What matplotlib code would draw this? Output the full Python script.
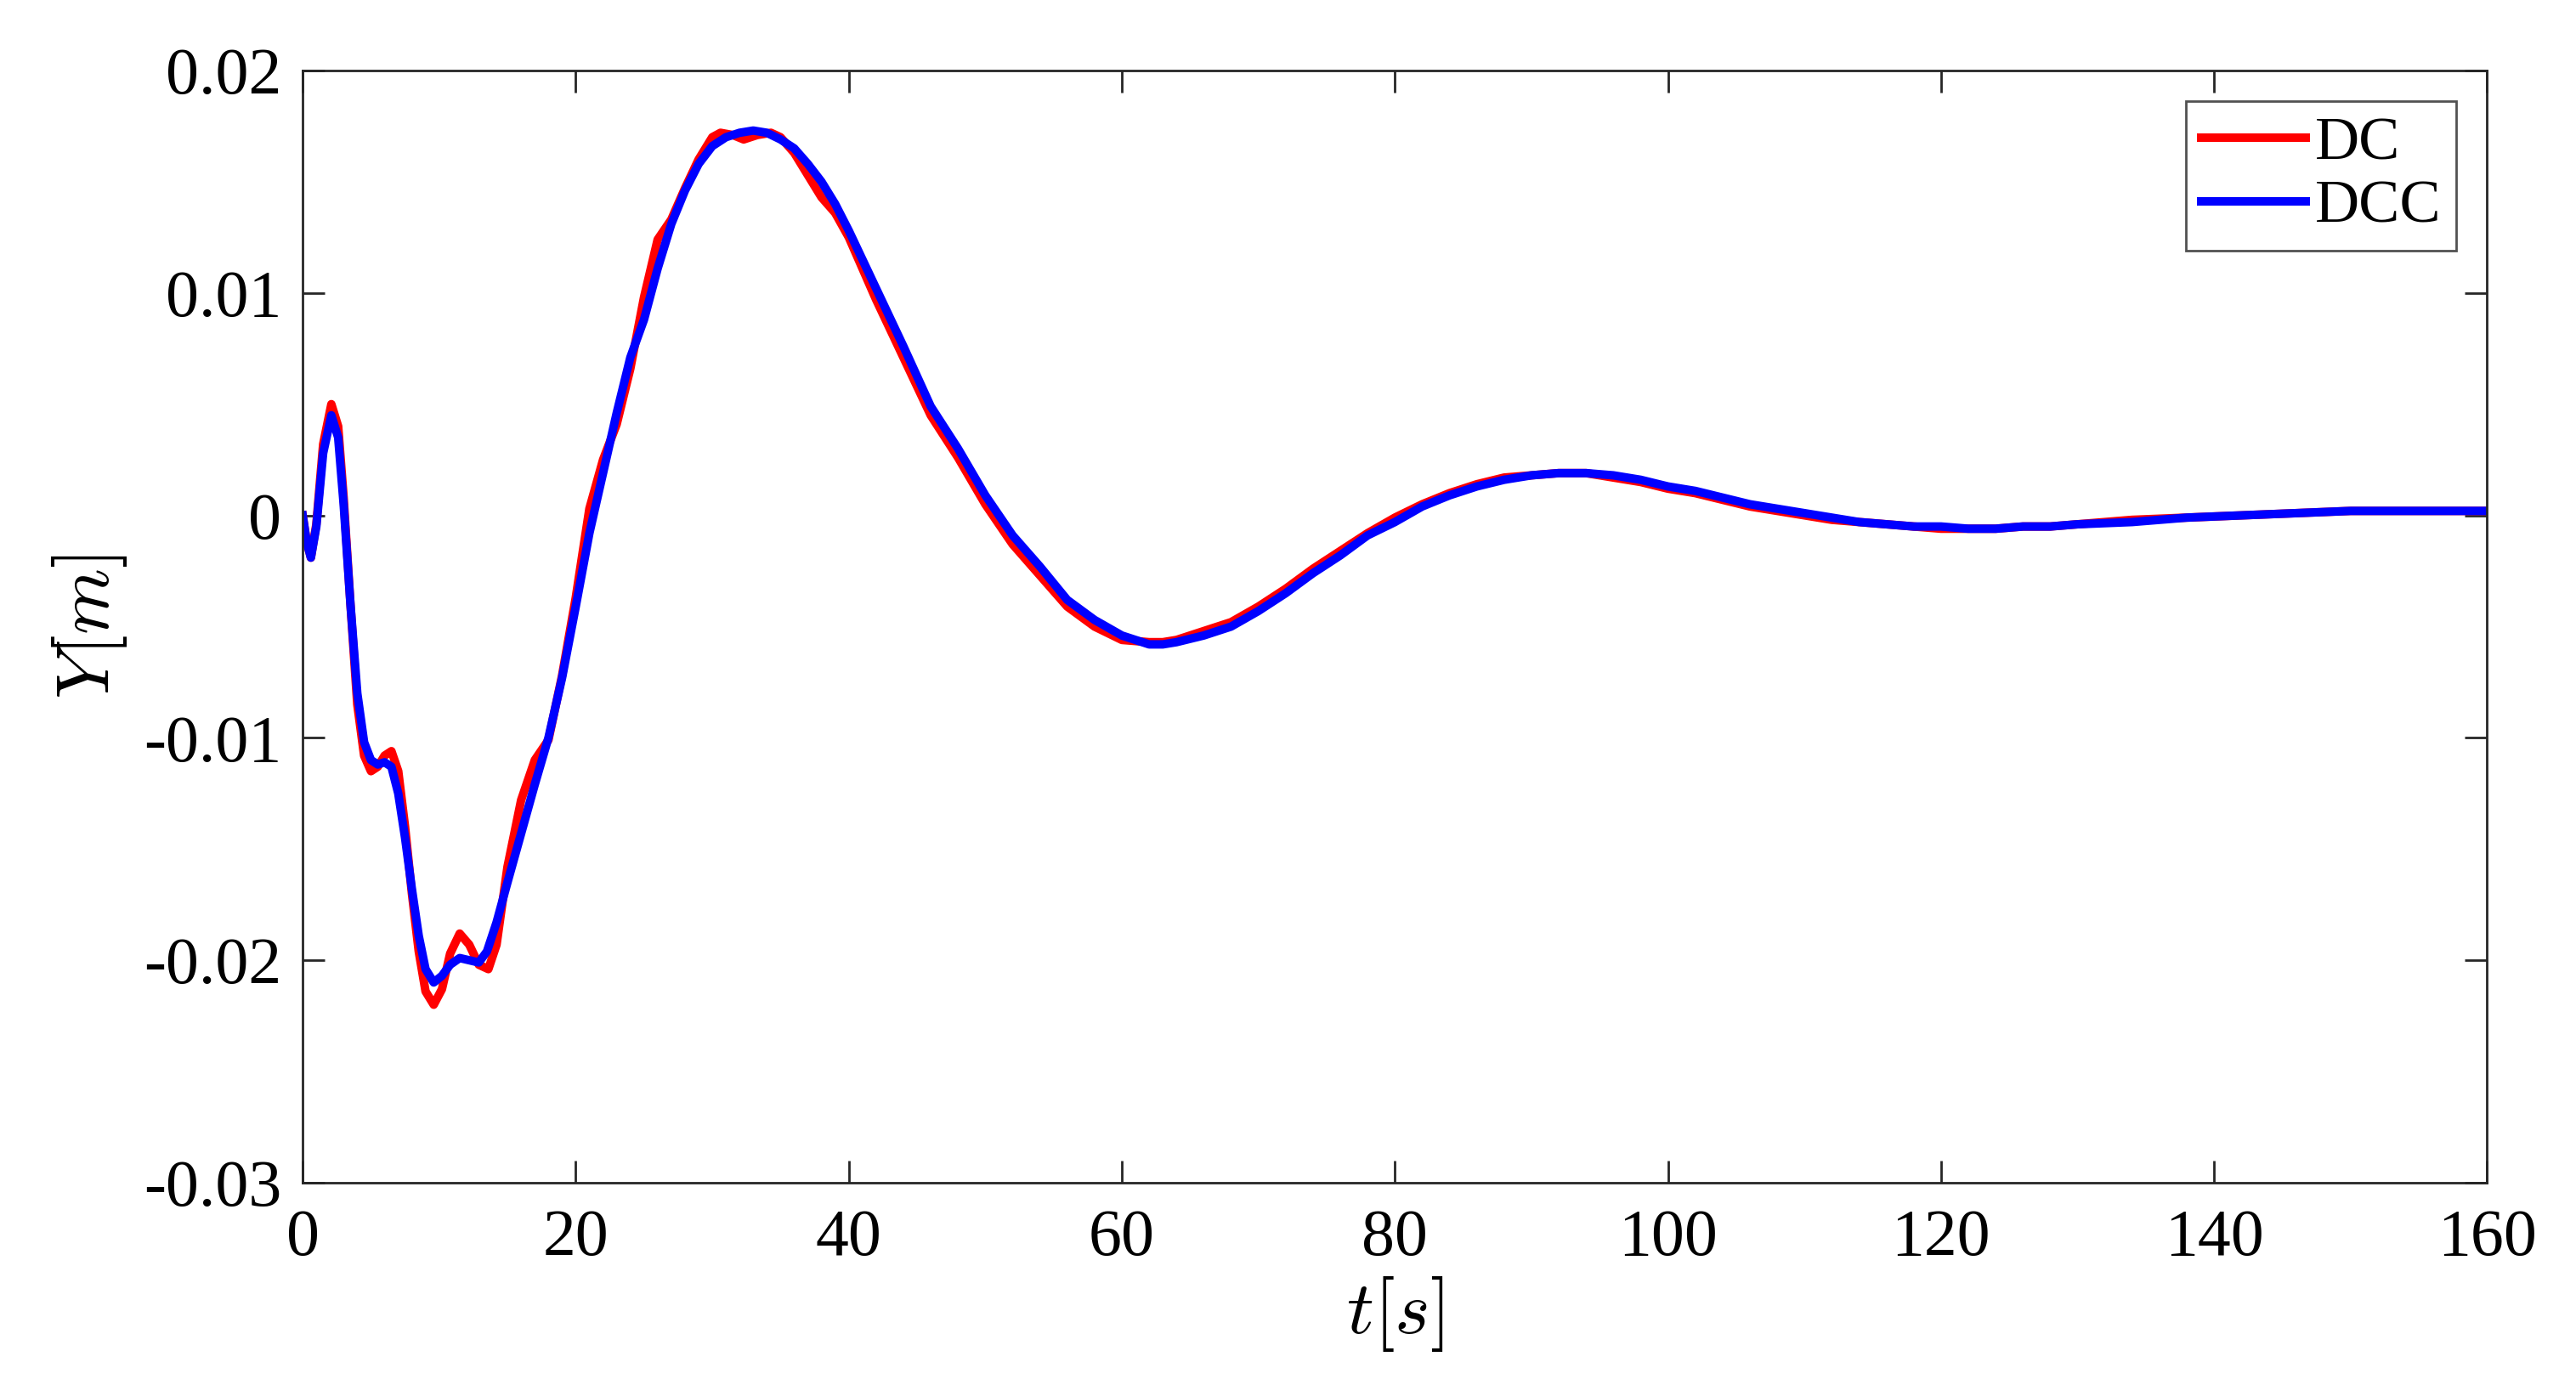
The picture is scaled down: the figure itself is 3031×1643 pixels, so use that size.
import numpy as np
import matplotlib
matplotlib.use("Agg")
import matplotlib.pyplot as plt

# DC response (red)
t_dc = [0, 0.3, 0.6, 1.0, 1.5, 2.1, 2.6, 3.0, 3.5, 4.0, 4.5, 5.0, 5.5, 6.0, 6.5,
        7.0, 7.5, 8.0, 8.5, 9.0, 9.6, 10.2, 10.8, 11.5, 12.2, 12.9, 13.6, 14.2,
        15.0, 16.0, 17.0, 18.0, 19.0, 20.0, 21.0, 22.0, 23.0, 24.0, 25.0, 26.0,
        27.0, 28.0, 29.0, 30.0, 30.6, 31.5, 32.3, 33.3, 34.3, 35.0, 36.0, 37.0,
        38.0, 39.0, 40.0, 42, 44, 46, 48, 50, 52, 54, 56, 58, 60, 62, 63, 64, 66,
        68, 70, 72, 74, 76, 78, 80, 82, 84, 86, 88, 90, 92, 94, 96, 98, 100, 102,
        104, 106, 108, 110, 112, 114, 116, 118, 120, 122, 124, 126, 128, 130,
        134, 138, 142, 146, 150, 154, 158, 160]
y_dc = [0, -0.0012, -0.0019, -0.0004, 0.0032, 0.0050, 0.0040, 0.0008, -0.0040,
        -0.0085, -0.0108, -0.0115, -0.0113, -0.0108, -0.0106, -0.0115, -0.0140,
        -0.0170, -0.0196, -0.0214, -0.0220, -0.0213, -0.0197, -0.0188, -0.0193,
        -0.0202, -0.0204, -0.0193, -0.0158, -0.0128, -0.0110, -0.0101, -0.0072,
        -0.0037, 0.0003, 0.0025, 0.0041, 0.0066, 0.0098, 0.0124, 0.0133, 0.0147,
        0.0160, 0.0170, 0.0172, 0.0171, 0.0169, 0.0171, 0.0172, 0.0170, 0.0163,
        0.0153, 0.0143, 0.0136, 0.0125, 0.0097, 0.0071, 0.0045, 0.0026, 0.0005,
        -0.0013, -0.0027, -0.0041, -0.0050, -0.0056, -0.0057, -0.0057, -0.0056,
        -0.0052, -0.0048, -0.0041, -0.0033, -0.0024, -0.0016, -0.0008, -0.0001,
        0.0005, 0.0010, 0.0014, 0.0017, 0.0018, 0.0019, 0.0019, 0.0017, 0.0015,
        0.0012, 0.0010, 0.0007, 0.0004, 0.0002, 0.0000, -0.0002, -0.0003,
        -0.0004, -0.0005, -0.0006, -0.0006, -0.0006, -0.0005, -0.0005, -0.0004,
        -0.0002, -0.0001, 0.0000, 0.0001, 0.0002, 0.0002, 0.0002, 0.0002]

# DCC response (blue)
t_dcc = [0, 0.3, 0.6, 1.0, 1.5, 2.1, 2.6, 3.0, 3.5, 4.0, 4.5, 5.0, 5.5, 6.0, 6.5,
         7.0, 7.5, 8.0, 8.5, 9.0, 9.6, 10.2, 10.8, 11.5, 12.2, 12.9, 13.5, 14.2,
         15.0, 16.0, 17.0, 18.0, 19.0, 20.0, 21.0, 22.0, 23.0, 24.0, 25.0, 26.0,
         27.0, 28.0, 29.0, 30.0, 31.0, 32.0, 33.0, 34.0, 35.0, 36.0, 37.0, 38.0,
         39.0, 40.0, 42, 44, 46, 48, 50, 52, 54, 56, 58, 60, 62, 63, 64, 66, 68,
         70, 72, 74, 76, 78, 80, 82, 84, 86, 88, 90, 92, 94, 96, 98, 100, 102,
         104, 106, 108, 110, 112, 114, 116, 118, 120, 122, 124, 126, 128, 130,
         134, 138, 142, 146, 150, 154, 158, 160]
y_dcc = [0, -0.0012, -0.0019, -0.0005, 0.0028, 0.0045, 0.0035, 0.0005, -0.0040,
         -0.0080, -0.0102, -0.0110, -0.0112, -0.0111, -0.0113, -0.0125, -0.0145,
         -0.0168, -0.0189, -0.0204, -0.0210, -0.0207, -0.0202, -0.0199, -0.0200,
         -0.0201, -0.0196, -0.0183, -0.0165, -0.0143, -0.0121, -0.0100, -0.0073,
         -0.0041, -0.0008, 0.0019, 0.0046, 0.0071, 0.0088, 0.0111, 0.0131, 0.0146,
         0.0158, 0.0166, 0.0170, 0.0172, 0.0173, 0.0172, 0.0169, 0.0165, 0.0158,
         0.0150, 0.0140, 0.0128, 0.0102, 0.0076, 0.0049, 0.0030, 0.0009, -0.0009,
         -0.0023, -0.0038, -0.0047, -0.0054, -0.0058, -0.0058, -0.0057, -0.0054,
         -0.0050, -0.0043, -0.0035, -0.0026, -0.0018, -0.0009, -0.0003, 0.0004,
         0.0009, 0.0013, 0.0016, 0.0018, 0.0019, 0.0019, 0.0018, 0.0016, 0.0013,
         0.0011, 0.0008, 0.0005, 0.0003, 0.0001, -0.0001, -0.0003, -0.0004,
         -0.0005, -0.0005, -0.0006, -0.0006, -0.0005, -0.0005, -0.0004, -0.0003,
         -0.0001, 0.0000, 0.0001, 0.0002, 0.0002, 0.0002, 0.0002]

x_ticks = [0, 20, 40, 60, 80, 100, 120, 140, 160]
y_ticks = [-0.03, -0.02, -0.01, 0, 0.01, 0.02]
y_tick_labels = ['-0.03', '-0.02', '-0.01', '0', '0.01', '0.02']

plt.rcParams['font.family'] = ['Liberation Serif', 'DejaVu Serif']
plt.rcParams['mathtext.fontset'] = 'cm'
plt.rcParams['axes.unicode_minus'] = False

axis_color = (0.15, 0.15, 0.15)

fig = plt.figure(figsize=(15.155, 8.215), dpi=200)
ax = fig.add_axes([0.1175, 0.1528, 0.848, 0.7967])

ax.plot(t_dc, y_dc, color=(1, 0, 0), lw=3.6, label='DC',
        solid_joinstyle='round')
ax.plot(t_dcc, y_dcc, color=(0, 0, 1), lw=3.6, label='DCC',
        solid_joinstyle='round')

ax.set_xlim(0, 160)
ax.set_ylim(-0.03, 0.02)
ax.set_xticks(x_ticks)
ax.set_xticklabels([str(v) for v in x_ticks])
ax.set_yticks(y_ticks)
ax.set_yticklabels(y_tick_labels)

ax.tick_params(direction='in', length=9.5, width=1.0, top=True, right=True,
               labelsize=28, colors=axis_color, labelcolor='black')
ax.tick_params(axis='x', pad=11)
ax.tick_params(axis='y', pad=9)
for s in ax.spines.values():
    s.set_linewidth(1.0)
    s.set_color(axis_color)

ax.set_xlabel(r'$t[s]$', fontsize=32, labelpad=2)
ax.set_ylabel(r'$Y[m]$', fontsize=32, labelpad=6)

leg = ax.legend(loc='upper right', fontsize=26, frameon=True, fancybox=False,
                handlelength=1.7, handletextpad=0.15, labelspacing=0.12,
                borderpad=0.25, borderaxespad=0.5)
leg.get_frame().set_edgecolor(axis_color)
leg.get_frame().set_linewidth(1.0)

fig.savefig('out.png', dpi=200)
